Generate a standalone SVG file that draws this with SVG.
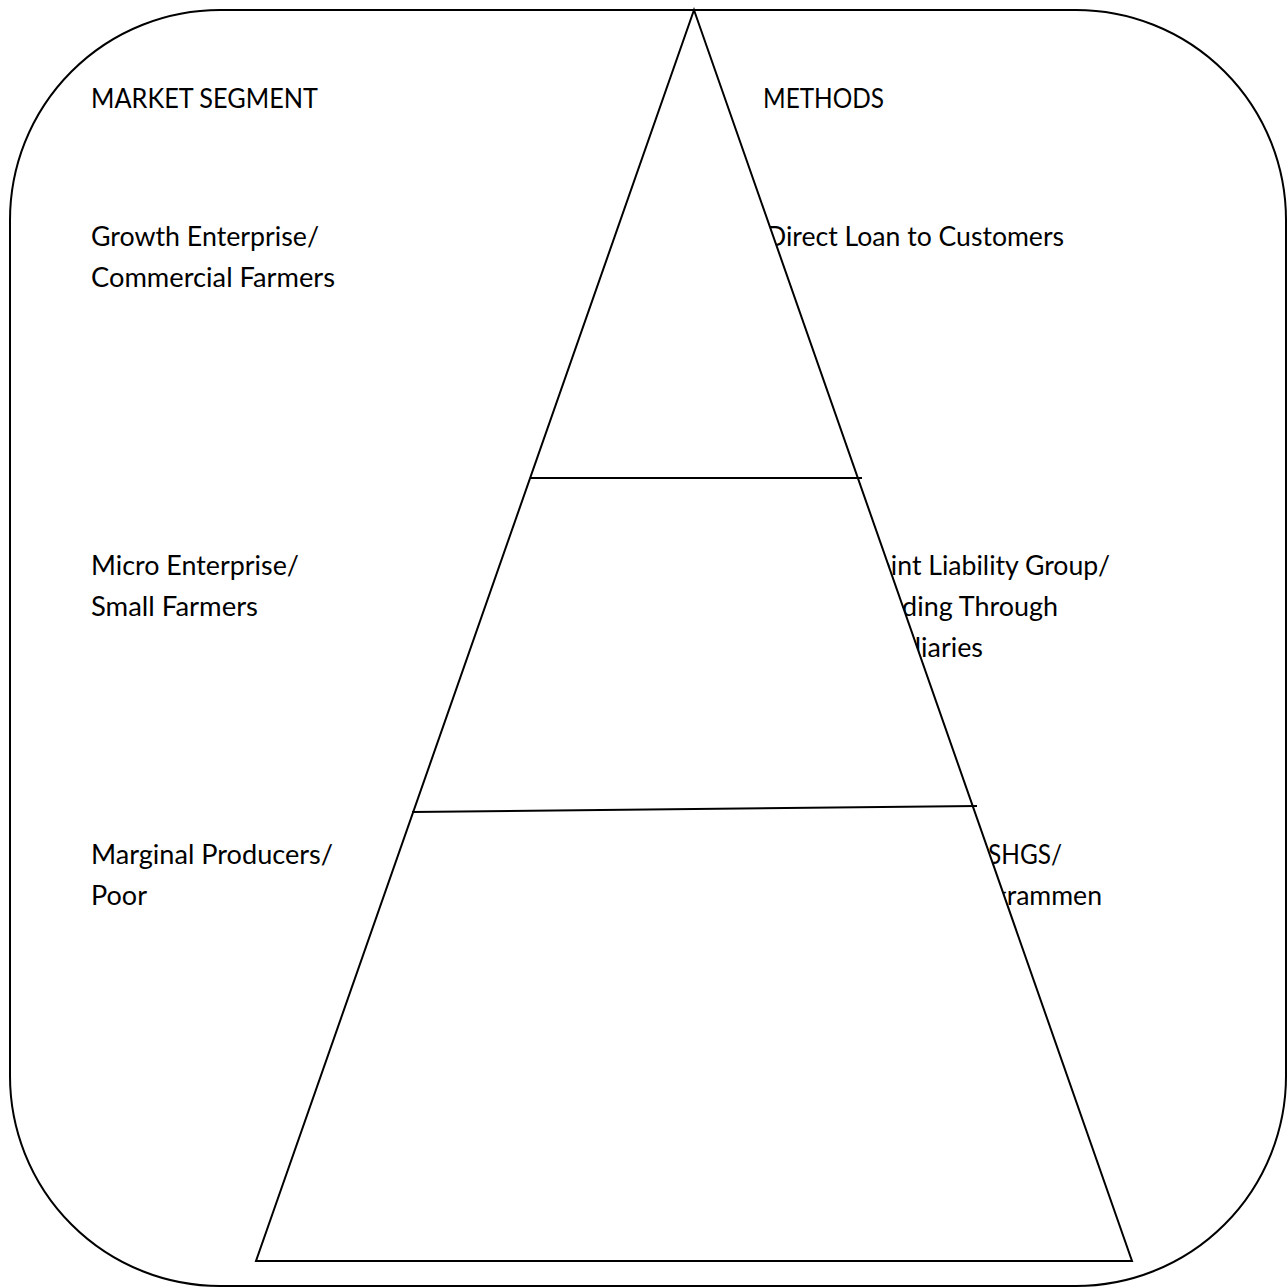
<svg xmlns="http://www.w3.org/2000/svg" width="1288" height="1288" viewBox="0 0 1288 1288">
<style>
.t{font-family:Lato,"Open Sans","Liberation Sans",sans-serif;font-size:27px;fill:#000}
.s{fill:none;stroke:#000;stroke-width:2}
</style>
<rect width="1288" height="1288" fill="#fff"/>
<g id="frame"><rect class="s" x="10" y="10" width="1276" height="1276" rx="210" ry="210"/></g>
<g id="left-labels">
<text class="t" x="91" y="108" textLength="227" lengthAdjust="spacingAndGlyphs">MARKET SEGMENT</text>
<text class="t" x="91" y="246" textLength="228" lengthAdjust="spacingAndGlyphs">Growth Enterprise/</text>
<text class="t" x="91" y="287" textLength="244" lengthAdjust="spacingAndGlyphs">Commercial Farmers</text>
<text class="t" x="91" y="575" textLength="208" lengthAdjust="spacingAndGlyphs">Micro Enterprise/</text>
<text class="t" x="91" y="616" textLength="167" lengthAdjust="spacingAndGlyphs">Small Farmers</text>
<text class="t" x="91" y="864" textLength="242" lengthAdjust="spacingAndGlyphs">Marginal Producers/</text>
<text class="t" x="91" y="905" textLength="56" lengthAdjust="spacingAndGlyphs">Poor</text>
</g>
<g id="right-labels">
<text class="t" x="763" y="108" textLength="121" lengthAdjust="spacingAndGlyphs">METHODS</text>
<text class="t" x="766" y="246" textLength="298" lengthAdjust="spacingAndGlyphs">Direct Loan to Customers</text>
<text class="t" x="865" y="575" textLength="245" lengthAdjust="spacingAndGlyphs">Joint Liability Group/</text>
<text class="t" x="860" y="616" textLength="198" lengthAdjust="spacingAndGlyphs">Lending Through</text>
<text class="t" x="862" y="657" textLength="121" lengthAdjust="spacingAndGlyphs">Auxiliaries</text>
<text class="t" x="988" y="864" textLength="74" lengthAdjust="spacingAndGlyphs">SHGS/</text>
<text class="t" x="953" y="905" textLength="149" lengthAdjust="spacingAndGlyphs">Programmen</text>
</g>
<g id="pyramid">
<polygon points="694,10 1132,1261 256,1261" fill="#fff" stroke="#000" stroke-width="2" stroke-linejoin="miter"/>
</g>
<g id="connectors">
<line class="s" x1="530" y1="478" x2="862" y2="478"/>
<line class="s" x1="412" y1="812" x2="977" y2="806"/>
</g>
</svg>
